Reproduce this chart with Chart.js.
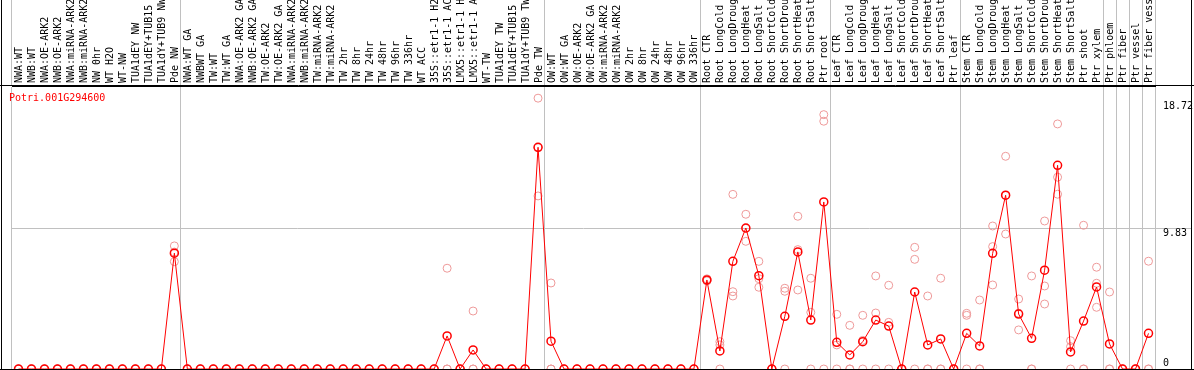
<!DOCTYPE html>
<html>
<head>
<meta charset="utf-8">
<script src="https://cdn.jsdelivr.net/npm/chart.js@4.4.0/dist/chart.umd.min.js"></script>
<style>
  html, body { margin: 0; padding: 0; background: #fff; }
  canvas { display: block; }
</style>
</head>
<body>
<canvas id="grafico" width="1194" height="370"></canvas>
<script>
// Gene shown in the plot
const gene = 'Potri.001G294600';

// Sample names (88 columns, left to right)
const amostras = [
  'NWA:WT', 'NWB:WT', 'NWA:OE-ARK2', 'NWB:OE-ARK2', 'NWA:miRNA-ARK2', 'NWB:miRNA-ARK2',
  'NW 0hr', 'WT H2O', 'WT-NW', 'TUA1dEY NW', 'TUA1dEY+TUB15 NW', 'TUA1dY+TUB9 NW', 'Pde NW',
  'NWA:WT GA', 'NWBWT GA', 'TW:WT', 'TW:WT GA', 'NWA:OE-ARK2 GA', 'NWB:OE-ARK2 GA',
  'TW:OE-ARK2', 'TW:OE-ARK2 GA', 'NWA:miRNA-ARK2 GA', 'NWB:miRNA-ARK2 GA', 'TW:miRNA-ARK2',
  'TW:miRNA-ARK2 GA', 'TW 2hr', 'TW 8hr', 'TW 24hr', 'TW 48hr', 'TW 96hr', 'TW 336hr',
  'WT ACC', '35S::etr1-1 H2O', '35S::etr1-1 ACC', 'LMX5::etr1-1 H2O', 'LMX5::etr1-1 ACC',
  'WT-TW', 'TUA1dEY TW', 'TUA1dEY+TUB15 TW', 'TUA1dY+TUB9 TW', 'Pde TW',
  'OW:WT', 'OW:WT GA', 'OW:OE-ARK2', 'OW:OE-ARK2 GA', 'OW:miRNA-ARK2', 'OW:miRNA-ARK2 GA',
  'OW 2hr', 'OW 8hr', 'OW 24hr', 'OW 48hr', 'OW 96hr', 'OW 336hr',
  'Root CTR', 'Root LongCold', 'Root LongDrought', 'Root LongHeat', 'Root LongSalt',
  'Root ShortCold', 'Root ShortDrought', 'Root ShortHeat', 'Root ShortSalt', 'Ptr root',
  'Leaf CTR', 'Leaf LongCold', 'Leaf LongDrought', 'Leaf LongHeat', 'Leaf LongSalt',
  'Leaf ShortCold', 'Leaf ShortDrought', 'Leaf ShortHeat', 'Leaf ShortSalt', 'Ptr leaf',
  'Stem CTR', 'Stem LongCold', 'Stem LongDrought', 'Stem LongHeat', 'Stem LongSalt',
  'Stem ShortCold', 'Stem ShortDrought', 'Stem ShortHeat', 'Stem ShortSalt', 'Ptr shoot', 'Ptr xylem',
  'Ptr phloem', 'Ptr fiber', 'Ptr vessel', 'Ptr fiber vessel'
];

// First column of each experiment block (gray separators)
const inicioGrupos = [0, 13, 41, 53, 63, 73, 84, 85, 86, 87, 88];

// Mean expression
const media = [
  0, 0, 0, 0, 0, 0, 0, 0, 0, 0, 0, 0, 8.09,
  0, 0, 0, 0, 0, 0, 0, 0, 0, 0, 0, 0, 0, 0, 0, 0, 0, 0, 0, 0, 2.31, 0, 1.33, 0, 0, 0, 0, 15.49,
  1.94, 0, 0, 0, 0, 0, 0, 0, 0, 0, 0, 0,
  6.22, 1.26, 7.52, 9.85, 6.52, 0, 3.68, 8.18, 3.42, 11.67,
  1.86, 0.98, 1.91, 3.42, 3.00, 0, 5.38, 1.68, 2.10, 0,
  2.49, 1.61, 8.08, 12.14, 3.84, 2.14, 6.90, 14.23, 1.19, 3.35, 5.73,
  1.75, 0, 0, 2.49
];

// Replicates
const rep1 = [
  0, 0, 0, 0, 0, 0, 0, 0, 0, 0, 0, 0, 8.60,
  0, 0, 0, 0, 0, 0, 0, 0, 0, 0, 0, 0, 0, 0, 0, 0, 0, 0, 0, 0, 7.04, 0, 4.05, 0, 0, 0, 0, 18.92,
  6.01, 0, 0, 0, 0, 0, 0, 0, 0, 0, 0, 0,
  6.30, 1.91, 12.20, 10.81, 7.52, 0, 5.64, 10.67, 6.34, 17.77,
  3.82, 3.05, 3.75, 6.50, 5.85, 0, 8.50, 5.10, 6.34, 0,
  3.89, 4.82, 9.99, 14.86, 4.89, 6.50, 10.34, 17.12, 1.98, 10.04, 7.11,
  5.38, 0, 0, 7.53
];
const rep2 = [
  0, 0, 0, 0, 0, 0, 0, 0, 0, 0, 0, 0, 7.50,
  0, 0, 0, 0, 0, 0, 0, 0, 0, 0, 0, 0, 0, 0, 0, 0, 0, 0, 0, 0, 0, 0, 0, 0, 0, 0, 0, 12.09,
  0, 0, 0, 0, 0, 0, 0, 0, 0, 0, 0, 0,
  6.20, 1.68, 5.40, 8.92, 6.31, 0, 5.43, 8.34, 3.96, 17.31,
  1.68, 0, 2.00, 3.91, 3.26, 0, 7.66, 0, 0, 0,
  3.75, 0, 8.55, 12.13, 3.90, 0, 5.80, 13.40, 1.56, 0, 5.99,
  0, 0, 0, 0
];
const rep3 = [
  0, 0, 0, 0, 0, 0, 0, 0, 0, 0, 0, 0, 8.17,
  0, 0, 0, 0, 0, 0, 0, 0, 0, 0, 0, 0, 0, 0, 0, 0, 0, 0, 0, 0, 0, 0, 0, 0, 0, 0, 0, 15.46,
  0, 0, 0, 0, 0, 0, 0, 0, 0, 0, 0, 0,
  6.15, 0, 5.10, 9.82, 5.71, 0, 0, 5.52, 0, 0,
  0, 0, 0, 0, 0, 0, 0, 0, 0, 0,
  0, 0, 5.87, 9.43, 2.73, 0, 4.54, 12.21, 0, 0, 4.31,
  0, 0, 0, 0
];

// Y axis ticks and range
const yTicks = [0, 9.83, 18.72];
const yMax = 19.77;

const fonte = { family: "'DejaVu Sans Mono', monospace", size: 10, lineHeight: 1.1 };
const cinza = '#c0c0c0';

function corGrupo(ctx) {
  if (ctx.type !== 'tick') return cinza; // closing line on the right
  return inicioGrupos.includes(ctx.index) ? cinza : 'rgba(0,0,0,0)';
}

// Frame lines and gene name
const moldura = {
  id: 'moldura',
  afterDraw(chart) {
    const ctx = chart.ctx;
    const w = chart.width, h = chart.height;
    const area = chart.chartArea;
    ctx.save();
    ctx.strokeStyle = '#000';
    ctx.lineWidth = 1;
    ctx.beginPath();
    ctx.moveTo(1.5, 0); ctx.lineTo(1.5, h);
    ctx.moveTo(w - 2.5, 0); ctx.lineTo(w - 2.5, h);
    ctx.moveTo(0, area.top - 0.5); ctx.lineTo(w, area.top - 0.5);
    ctx.moveTo(0, area.bottom + 0.5); ctx.lineTo(w, area.bottom + 0.5);
    ctx.stroke();
    ctx.fillStyle = '#ff0000';
    ctx.font = "10px 'DejaVu Sans Mono', monospace";
    ctx.textBaseline = 'middle';
    ctx.fillText(gene, 9, area.top + 12);
    ctx.restore();
  }
};

function replicata(dados) {
  return {
    data: dados,
    showLine: false,
    borderColor: '#ee9999',
    pointBorderColor: '#ee9999',
    pointBackgroundColor: 'rgba(0,0,0,0)',
    pointRadius: 4,
    pointBorderWidth: 1,
    clip: false,
    order: 2
  };
}

new Chart(document.getElementById('grafico'), {
  type: 'line',
  data: {
    labels: amostras,
    datasets: [
      {
        data: media,
        borderColor: '#ff0000',
        borderWidth: 1,
        pointBorderColor: '#ff0000',
        pointBackgroundColor: 'rgba(0,0,0,0)',
        pointRadius: 4,
        pointBorderWidth: 1.5,
        tension: 0,
        clip: false,
        order: 1
      },
      replicata(rep1),
      replicata(rep2),
      replicata(rep3)
    ]
  },
  options: {
    responsive: false,
    animation: false,
    events: [],
    layout: { autoPadding: false, padding: { left: 12, right: 0, top: 0, bottom: 1 } },
    plugins: {
      legend: { display: false },
      tooltip: { enabled: false },
      title: { display: false }
    },
    scales: {
      x: {
        type: 'category',
        position: 'top',
        offset: true,
        grid: {
          offset: true,
          color: corGrupo,
          tickLength: 86,
          lineWidth: 1
        },
        border: { display: true, color: '#000' },
        ticks: {
          autoSkip: false,
          minRotation: 90,
          maxRotation: 90,
          padding: -83,
          labelOffset: 12,
          color: '#000',
          font: fonte
        },
        afterFit(scale) {
          scale.height = 86;
          scale.paddingLeft = 0;
          scale.paddingRight = 0;
        }
      },
      y: {
        position: 'right',
        min: 0,
        max: yMax,
        afterBuildTicks(axis) {
          axis.ticks = yTicks.map(v => ({ value: v }));
        },
        grid: {
          color: ctx => (ctx.tick && Math.abs(ctx.tick.value - 9.83) < 0.001) ? cinza : 'rgba(0,0,0,0)',
          tickLength: 37
        },
        border: { display: false },
        ticks: {
          padding: -29,
          color: '#000',
          font: fonte,
          callback: v => v === 0 ? ['0', ''] : ['', v.toFixed(2)]
        },
        afterFit(scale) {
          scale.width = 39;
          scale.paddingTop = 0;
          scale.paddingBottom = 0;
        }
      }
    }
  },
  plugins: [moldura]
});
</script>
</body>
</html>
